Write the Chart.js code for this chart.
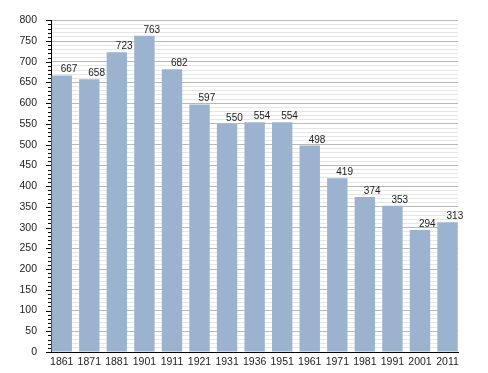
<!DOCTYPE html>
<html>
<head>
<meta charset="utf-8">
<script src="https://cdn.jsdelivr.net/npm/chart.js@4"></script>
<style>
html,body{margin:0;padding:0;background:#fff;}
#wrap{width:488px;height:373px;}
</style>
</head>
<body>
<div id="wrap"><canvas id="c" width="488" height="373"></canvas></div>
<script>
const years = ['1861','1871','1881','1901','1911','1921','1931','1936','1951','1961','1971','1981','1991','2001','2011'];
const population = [667,658,723,763,682,597,550,554,554,498,419,374,353,294,313];
const yTickMajor = 50;
const yTickMinor = 10;
const yMax = 800;

const FONT = "'Liberation Sans', Arial, sans-serif";

const minorTicksPlugin = {
  id: 'minorTicks',
  afterDraw(chart) {
    const y = chart.scales.y;
    const ctx = chart.ctx;
    ctx.save();
    ctx.strokeStyle = '#000';
    ctx.lineWidth = 1;
    y.ticks.forEach(t => {
      const py = Math.round(y.getPixelForValue(t.value)) + 0.5;
      const len = (t.value % yTickMajor === 0) ? 5 : 3;
      ctx.beginPath();
      ctx.moveTo(y.right - len, py);
      ctx.lineTo(y.right, py);
      ctx.stroke();
    });
    ctx.restore();
  }
};

const valueLabelsPlugin = {
  id: 'valueLabels',
  afterDatasetsDraw(chart) {
    const ctx = chart.ctx;
    const meta = chart.getDatasetMeta(0);
    ctx.save();
    ctx.font = '10px ' + FONT;
    ctx.fillStyle = '#222';
    ctx.textAlign = 'left';
    ctx.textBaseline = 'alphabetic';
    meta.data.forEach((bar, i) => {
      ctx.fillText(String(population[i]), bar.x - 1, bar.y - 3);
    });
    ctx.restore();
  }
};

new Chart(document.getElementById('c'), {
  type: 'bar',
  data: {
    datasets: [{
      data: population.map((v, i) => ({x: i, y: v})),
      backgroundColor: '#9bb3cf',
      borderWidth: 0,
      categoryPercentage: 1,
      barPercentage: 0.74
    }]
  },
  options: {
    responsive: false,
    animation: false,
    devicePixelRatio: 1,
    layout: {padding: {top: 20, right: 30, bottom: 0, left: 0}},
    plugins: {legend: {display: false}, tooltip: {enabled: false}},
    scales: {
      x: {
        type: 'linear',
        offset: false,
        min: -0.39,
        max: 14.38,
        afterBuildTicks: s => { s.ticks = years.map((_, i) => ({value: i})); },
        afterFit: s => { s.height = 21; },
        grid: {display: false, drawTicks: false, offset: false},
        border: {display: true, color: '#000', width: 1},
        ticks: {
          autoSkip: false,
          maxRotation: 0,
          padding: 4,
          color: '#222',
          font: {family: FONT, size: 10.5},
          callback: v => years[v]
        }
      },
      y: {
        min: 0,
        max: yMax,
        afterFit: s => { s.width = 51; },
        grid: {
          drawTicks: false,
          color: c => (c.tick && c.tick.value % yTickMajor === 0) ? '#b8b8b8' : '#e6e6e6'
        },
        border: {display: true, color: '#000', width: 1},
        ticks: {
          stepSize: yTickMinor,
          autoSkip: false,
          padding: 14,
          color: '#222',
          font: {family: FONT, size: 10.5},
          callback: v => (v % yTickMajor === 0) ? String(v) : ''
        }
      }
    }
  },
  plugins: [minorTicksPlugin, valueLabelsPlugin]
});
</script>
</body>
</html>
